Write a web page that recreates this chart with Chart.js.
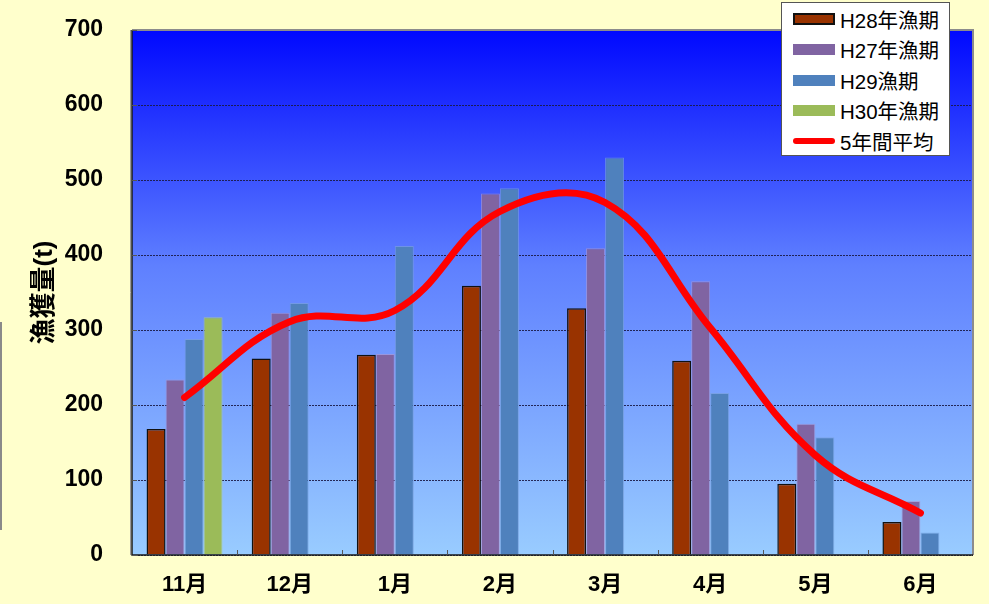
<!DOCTYPE html>
<html><head><meta charset="utf-8">
<script src="https://cdn.jsdelivr.net/npm/chart.js@4/dist/chart.umd.min.js"></script>
<style>
html,body{margin:0;padding:0;background:#FFFFCC;}
#wrap{position:relative;width:989px;height:604px;overflow:hidden;background:#FFFFCC;}
canvas{position:absolute;left:0;top:0;}
#legend{position:absolute;left:781px;top:2px;width:169px;height:154px;background:#fff;border:1px solid #555;box-sizing:border-box;font-family:"Liberation Sans","Noto Sans CJK JP",sans-serif;font-size:20.5px;color:#000;}
.item{position:absolute;left:11px;height:30px;display:flex;align-items:center;white-space:nowrap;}
.sw{width:42px;height:11px;margin-right:5px;box-sizing:border-box;flex:none;}
#edge{position:absolute;left:0;top:322px;width:2px;height:208px;background:#8a8a8a;}
</style></head>
<body>
<div id="wrap">
<canvas id="c" width="989" height="604"></canvas>
<div id="edge"></div>
<div id="legend"></div>
</div>
<script>
const categories = ['11月','12月','1月','2月','3月','4月','5月','6月'];
const seriesNames = ['H28年漁期','H27年漁期','H29漁期','H30年漁期','5年間平均'];
const h28 = [168, 262, 267, 359, 329, 259, 95, 44];
const h27 = [234, 323, 268, 482, 409, 365, 175, 72];
const h29 = [288, 336, 412, 489, 530, 216, 157, 30];
const h30 = [317, null, null, null, null, null, null, null];
const avg5 = [210, 311, 326, 458, 470, 303, 133, 56];
const yTickValues = [0, 100, 200, 300, 400, 500, 600, 700];

const colors = {
  h28: '#993300', h27: '#8064A2', h29: '#4F81BD', h30: '#9BBB59', avg: '#FF0000'
};

const bgPlugin = {
  id: 'bg',
  beforeDraw(chart) {
    const {ctx, chartArea: a} = chart;
    ctx.save();
    ctx.fillStyle = '#FFFFCC';
    ctx.fillRect(0, 0, chart.width, chart.height);
    const g = ctx.createLinearGradient(0, a.top, 0, a.bottom);
    g.addColorStop(0, '#0008FF');
    g.addColorStop(0.45, '#5F80FF');
    g.addColorStop(1, '#99CCFF');
    ctx.fillStyle = g;
    ctx.fillRect(a.left, a.top, a.right - a.left, a.bottom - a.top);
    ctx.restore();
  },
  afterDraw(chart) {
    const {ctx, chartArea: a} = chart;
    const xs = chart.scales.x, ys = chart.scales.y;
    ctx.save();
    ctx.strokeStyle = '#8c8c8c';
    ctx.lineWidth = 2;
    ctx.beginPath();
    ctx.moveTo(a.left, a.top); ctx.lineTo(a.right, a.top); ctx.lineTo(a.right, a.bottom);
    ctx.stroke();
    ctx.strokeStyle = '#9a9a9a';
    ctx.lineWidth = 1;
    ctx.beginPath(); ctx.moveTo(a.left - 1.5, a.top); ctx.lineTo(a.left - 1.5, a.bottom); ctx.stroke();
    ctx.strokeStyle = '#1a1a1a';
    ctx.lineWidth = 1.5;
    ctx.beginPath();
    ctx.moveTo(a.left, a.top); ctx.lineTo(a.left, a.bottom); ctx.lineTo(a.right, a.bottom);
    ctx.stroke();
    ctx.strokeStyle = '#555';
    ctx.lineWidth = 1;
    for (let i = 1; i < categories.length; i++) {
      const x = Math.round((xs.getPixelForValue(i - 1) + xs.getPixelForValue(i)) / 2) + 0.5;
      ctx.beginPath(); ctx.moveTo(x, a.bottom - 5); ctx.lineTo(x, a.bottom); ctx.stroke();
    }
    for (const v of yTickValues) {
      const y = Math.round(ys.getPixelForValue(v)) + 0.5;
      ctx.beginPath(); ctx.moveTo(a.left, y); ctx.lineTo(a.left + 5, y); ctx.stroke();
    }
    ctx.restore();
  }
};

const FONT = "'Liberation Sans','Noto Sans CJK JP',sans-serif";

new Chart(document.getElementById('c'), {
  data: {
    labels: categories,
    datasets: [
      {type: 'bar', label: seriesNames[0], data: h28, backgroundColor: colors.h28, borderColor: '#111', borderWidth: 1.5, order: 1},
      {type: 'bar', label: seriesNames[1], data: h27, backgroundColor: colors.h27, borderColor: 'rgba(170,150,210,0.7)', borderWidth: 1, order: 1},
      {type: 'bar', label: seriesNames[2], data: h29, backgroundColor: colors.h29, borderColor: 'rgba(120,160,220,0.7)', borderWidth: 1, order: 1},
      {type: 'bar', label: seriesNames[3], data: h30, backgroundColor: colors.h30, borderColor: 'rgba(180,210,130,0.7)', borderWidth: 1, order: 1},
      {type: 'line', label: seriesNames[4], data: avg5, borderColor: colors.avg, borderWidth: 7, borderCapStyle: 'round', borderJoinStyle: 'round', pointRadius: 0, tension: 0.4, fill: false, order: 0}
    ]
  },
  options: {
    responsive: false,
    animation: false,
    devicePixelRatio: 1,
    layout: {padding: {top: 30, right: 16, left: 0, bottom: 0}},
    plugins: {legend: {display: false}, tooltip: {enabled: false}},
    datasets: {bar: {categoryPercentage: 0.723, barPercentage: 1.0}},
    scales: {
      x: {
        grid: {display: false, drawTicks: false},
        border: {display: false},
        ticks: {color: '#000', font: {family: FONT, size: 22, weight: 'bold'}, padding: 17},
        afterFit(s) { s.height = 49; s.paddingLeft = 0; s.paddingRight = 0; }
      },
      y: {
        min: 0, max: 700,
        afterBuildTicks(s) { s.ticks = yTickValues.map(v => ({value: v})); },
        grid: {color: 'rgba(25,25,70,0.9)', lineWidth: 1, drawTicks: false},
        border: {display: false, dash: [2, 1]},
        ticks: {color: '#000', font: {family: FONT, size: 23, weight: 'bold'}, padding: 29},
        title: {display: true, text: '漁獲量(t)', color: '#000', font: {family: FONT, size: 26, weight: 'bold'}, padding: {top: 29, bottom: 0}},
        afterFit(s) { s.width = 132; s.paddingTop = 0; s.paddingBottom = 0; }
      }
    }
  },
  plugins: [bgPlugin]
});

const legend = document.getElementById('legend');
const swatches = [
  'background:' + colors.h28 + ';border:2px solid #111;height:12px;',
  'background:' + colors.h27 + ';',
  'background:' + colors.h29 + ';',
  'background:' + colors.h30 + ';',
  'background:' + colors.avg + ';height:6px;border-radius:3px;'
];
const rowTops = [1, 31, 62, 92, 123];
seriesNames.forEach((name, i) => {
  const d = document.createElement('div');
  d.className = 'item';
  d.style.top = rowTops[i] + 'px';
  d.innerHTML = '<div class="sw" style="' + swatches[i] + '"></div><span>' + name + '</span>';
  legend.appendChild(d);
});
</script>
</body></html>
